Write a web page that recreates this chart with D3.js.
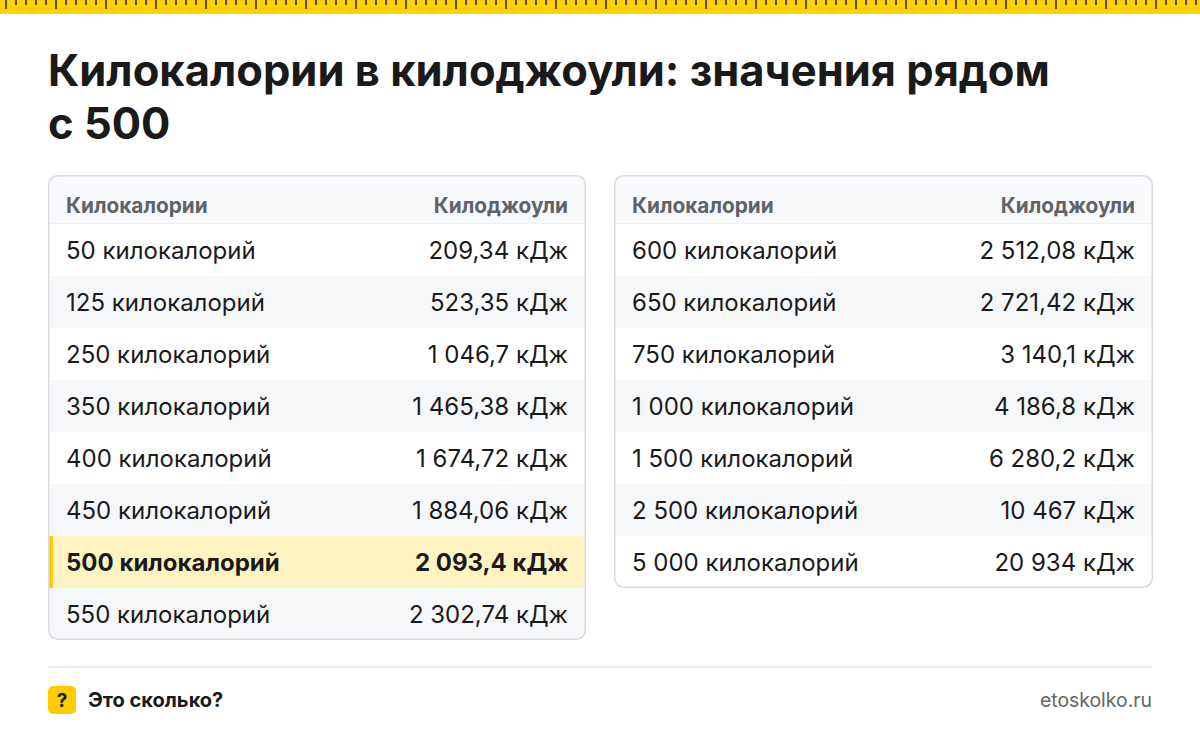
<!DOCTYPE html>
<html><head><meta charset="utf-8">
<script src="https://cdn.jsdelivr.net/npm/d3@7"></script>
<style>body{margin:0;background:#fff}svg{display:block;font-family:Inter,"Noto Sans",sans-serif}</style>
</head><body>
<svg id="c" width="1200" height="732"></svg>
<script>
// table contents
var leftKcal = ["50 килокалорий","125 килокалорий","250 килокалорий","350 килокалорий","400 килокалорий","450 килокалорий","500 килокалорий","550 килокалорий"];
var leftKj = ["209,34 кДж","523,35 кДж","1 046,7 кДж","1 465,38 кДж","1 674,72 кДж","1 884,06 кДж","2 093,4 кДж","2 302,74 кДж"];
var rightKcal = ["600 килокалорий","650 килокалорий","750 килокалорий","1 000 килокалорий","1 500 килокалорий","2 500 килокалорий","5 000 килокалорий"];
var rightKj = ["2 512,08 кДж","2 721,42 кДж","3 140,1 кДж","4 186,8 кДж","6 280,2 кДж","10 467 кДж","20 934 кДж"];
var headers = ["Килокалории","Килоджоули"];
var highlight = "500 килокалорий";

var svg = d3.select("#c");

// ruler on top
svg.append("rect").attr("width",1200).attr("height",14).attr("fill","#ffd100");
var ticks = d3.range(6, 1200, 10);
svg.selectAll(".tick").data(ticks).enter().append("rect")
    .attr("x", function(d){ return d - 1; })
    .attr("y", 0).attr("width", 2)
    .attr("height", function(d){ return (d - 6) % 50 == 0 ? 9 : 5; })
    .attr("fill", "#5c4d1f");

// title
var title = svg.append("text").attr("x",48).attr("font-size",43.5).attr("font-weight",700).attr("fill","#1a1a1a");
title.append("tspan").attr("x",48).attr("y",86).text("Килокалории в килоджоули: значения рядом");
title.append("tspan").attr("x",48).attr("y",139).text("с 500");

function drawTable(x0, x1, kcal, kj) {
    var headH = 49, rowH = 52, top = 175;
    var y = d3.scaleBand().domain(d3.range(kcal.length)).range([top + headH, top + headH + rowH * kcal.length]);
    var h = headH + rowH * kcal.length;
    var g = svg.append("g");
    var clip = "clip" + x0;
    g.append("clipPath").attr("id", clip).append("rect")
        .attr("x", x0).attr("y", top).attr("width", x1 - x0).attr("height", h).attr("rx", 9);
    var inner = g.append("g").attr("clip-path", "url(#" + clip + ")");
    inner.append("rect").attr("x", x0).attr("y", top).attr("width", x1 - x0).attr("height", headH).attr("fill", "#f8f9fa");
    inner.append("line").attr("x1", x0).attr("x2", x1).attr("y1", top + headH).attr("y2", top + headH).attr("stroke", "#e2e4e8");
    inner.selectAll(".row").data(kcal).enter().append("rect")
        .attr("x", x0).attr("width", x1 - x0)
        .attr("y", function(d, i){ return y(i); }).attr("height", y.bandwidth())
        .attr("fill", function(d, i){ return d == highlight ? "#fff3c2" : (i % 2 ? "#f6f7f9" : "#fff"); });
    kcal.forEach(function(d, i){
        if (d == highlight) inner.append("rect").attr("x", x0).attr("y", y(i)).attr("width", 5).attr("height", y.bandwidth()).attr("fill", "#ffcc00");
    });
    g.append("rect").attr("x", x0 + 0.75).attr("y", top + 0.75).attr("width", x1 - x0 - 1.5).attr("height", h - 1.5)
        .attr("rx", 9).attr("fill", "none").attr("stroke", "#d9dbe0").attr("stroke-width", 1.5);
    g.append("text").attr("x", x0 + 18).attr("y", top + 38).attr("font-size", 20.8).attr("font-weight", 700).attr("fill", "#5f6368").text(headers[0]);
    g.append("text").attr("x", x1 - 18).attr("y", top + 38).attr("text-anchor", "end").attr("font-size", 20.8).attr("font-weight", 700).attr("fill", "#5f6368").text(headers[1]);
    g.selectAll(".l").data(kcal).enter().append("text")
        .attr("x", x0 + 18).attr("y", function(d, i){ return y(i) + 35; })
        .attr("font-size", 24).attr("fill", "#1a1a1a")
        .attr("font-weight", function(d){ return d == highlight ? 700 : 400; })
        .text(function(d){ return d; });
    g.selectAll(".r").data(kj).enter().append("text")
        .attr("x", x1 - 18).attr("y", function(d, i){ return y(i) + 35; })
        .attr("text-anchor", "end").attr("font-size", 24).attr("fill", "#1a1a1a")
        .attr("font-weight", function(d, i){ return kcal[i] == highlight ? 700 : 400; })
        .text(function(d){ return d; });
}
drawTable(48, 586, leftKcal, leftKj);
drawTable(614, 1153, rightKcal, rightKj);

// footer
svg.append("line").attr("x1",48).attr("x2",1152).attr("y1",667).attr("y2",667).attr("stroke","#e4e5e8").attr("stroke-width",1.5);
svg.append("rect").attr("x",48).attr("y",686).attr("width",28).attr("height",28).attr("rx",5).attr("fill","#ffcc00");
svg.append("text").attr("x",62).attr("y",707).attr("text-anchor","middle").attr("font-size",19).attr("font-weight",700).attr("fill","#1a1a1a").text("?");
svg.append("text").attr("x",88).attr("y",707).attr("font-size",20).attr("font-weight",700).attr("fill","#1a1a1a").text("Это сколько?");
svg.append("text").attr("x",1152).attr("y",707).attr("text-anchor","end").attr("font-size",19.4).attr("fill","#666").text("etoskolko.ru");
</script>
</body></html>
